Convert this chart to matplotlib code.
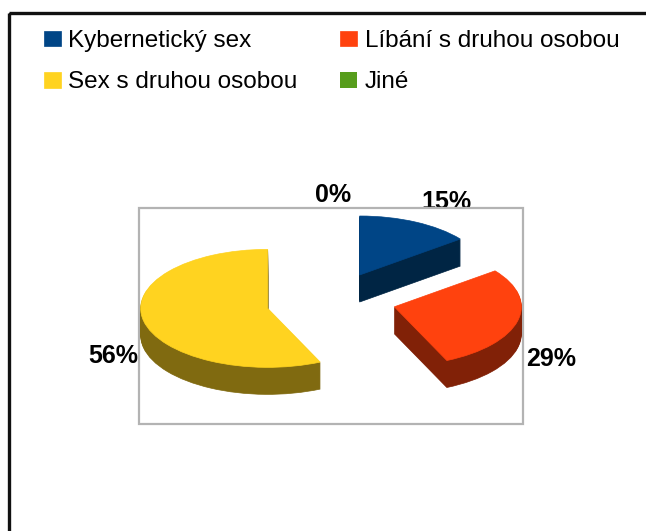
import matplotlib
matplotlib.use('Agg')
import matplotlib.pyplot as plt
from matplotlib.patches import Rectangle

plt.rcParams['font.family'] = ['Liberation Sans', 'DejaVu Sans']

# Values
labels = ['Kybernetický sex', 'Líbání s druhou osobou', 'Sex s druhou osobou', 'Jiné']
values = [14.5, 28.5, 56.5, 0]
colors = ['#004586', '#ff420e', '#ffd320', '#579d1c']
dark_colors = ['#002544', '#812107', '#806a10', '#2c4f0e']
explode = [0.51, 0.51, 0.51, 0.51]
pct_labels = ['15%', '29%', '56%', '0%']

W, H = 646, 531
fig = plt.figure(figsize=(W / 100, H / 100), dpi=100)

# background axes in pixel coordinates
bg = fig.add_axes([0, 0, 1, 1])
bg.set_xlim(0, W)
bg.set_ylim(H, 0)
bg.axis('off')
bg.add_patch(Rectangle((9, 13), W, H, fill=False, edgecolor='#111111', linewidth=2.4))
bg.add_patch(Rectangle((139, 208), 384, 216, fill=False, edgecolor='#b3b3b3', linewidth=1.6, zorder=5))

# pie axes, squashed so the circle turns into the tilted ellipse
cx, cy, rx, ry = 331, 302, 127, 59
lim = 2.6
ax = fig.add_axes([(cx - lim * rx) / W, 1 - (cy + lim * ry) / H, 2 * lim * rx / W, 2 * lim * ry / H])
ax.patch.set_alpha(0)
depth = 27


def draw_pie(cols, drop):
    wedges, _ = ax.pie(values, colors=cols, explode=explode, startangle=90, counterclock=False,
                       center=(0, -drop / ry))
    for w, c, v in zip(wedges, cols, values):
        w.set_edgecolor(c)
        # an empty slice must not leave its outline behind
        w.set_linewidth(0.5 if v > 0 else 0)
    # red slice sits a little higher than its radial offset
    x, y = wedges[1].center
    wedges[1].set_center((x + 0.5 / rx, y + 2.5 / ry))
    return wedges


for k in range(depth, 0, -1):
    draw_pie(dark_colors, k)
wedges = draw_pie(colors, 0)
ax.set_aspect('auto')
ax.set_xlim(-lim, lim)
ax.set_ylim(-lim, lim)
ax.axis('off')

# percent labels
pos = [(446, 202), (551, 359), (113, 356), (333, 195)]
for (x, y), s in zip(pos, pct_labels):
    bg.text(x, y, s, ha='center', va='center', fontsize=18, fontweight='bold', color='black')

# legend fills column by column, the picture reads row by row
order = [0, 2, 1, 3]
leg = bg.legend([wedges[i] for i in order], [labels[i] for i in order], ncols=2, loc='upper left',
                bbox_to_anchor=(44 / W, 1 - 30 / H), bbox_transform=fig.transFigure, frameon=False,
                fontsize=17.5, handlelength=0.7, handleheight=0.62, handletextpad=0.3,
                labelspacing=0.8, columnspacing=1.76, borderpad=0, borderaxespad=0)

fig.savefig('out.png', dpi=100)
